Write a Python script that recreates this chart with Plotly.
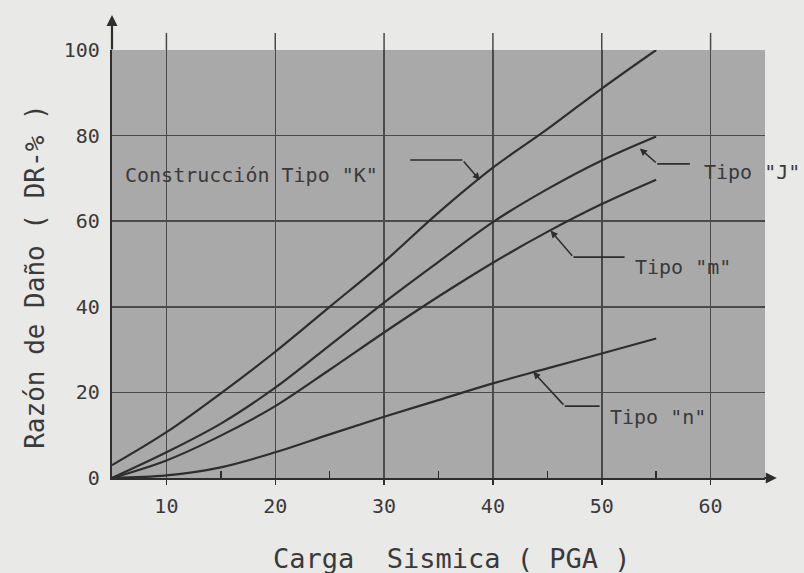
import plotly.graph_objects as go

# ---- data ----
pga = [5, 10, 15, 20, 25, 30, 35, 40, 45, 50, 55]
tipo_k = [3.0, 10.7, 19.8, 29.5, 40.0, 50.5, 62.0, 72.5, 81.5, 91.0, 100.0]
tipo_j = [0.0, 6.0, 12.7, 21.1, 31.0, 41.0, 50.5, 59.8, 67.5, 74.2, 79.8]
tipo_m = [0.0, 4.1, 9.9, 16.8, 25.3, 34.0, 42.4, 50.3, 57.5, 64.0, 69.7]
tipo_n = [0.0, 0.6, 2.5, 6.0, 10.2, 14.3, 18.2, 22.1, 25.6, 29.1, 32.6]

x_ticks = [10, 20, 30, 40, 50, 60]
x_tick_labels = ["10", "20", "30", "40", "50", "60"]
y_ticks = [0, 20, 40, 60, 80, 100]
y_tick_labels = ["0", "20", "40", "60", "80", "100"]
x_minor = [15, 25, 35, 45, 55]

series = [("Construcción Tipo \"K\"", tipo_k),
          ("Tipo \"J\"", tipo_j),
          ("Tipo \"m\"", tipo_m),
          ("Tipo \"n\"", tipo_n)]

# ---- styling ----
INK = "#2e2e2e"
TXT = "#3a3a3a"
GRID = "#4a4a4a"
PLOT_BG = "#a9a9a9"
PAPER_BG = "#e9e9e7"
FONT = "DejaVu Sans Mono"

fig = go.Figure()
for name, ys in series:
    fig.add_trace(go.Scatter(x=pga, y=ys, mode="lines", name=name,
                             line=dict(color=INK, width=2.2, shape="spline", smoothing=1.0),
                             showlegend=False, hoverinfo="skip"))

# label placement: (text, text_x, text_y, curve_x, curve_y, elbow_x, elbow_y, end_x)
labels = [
    ("Construcción Tipo \"K\"", 6.0, 70.8, 38.8, 69.6, 37.2, 74.3, 32.4),
    ("Tipo \"J\"", 59.2, 71.6, 53.5, 77.0, 55.1, 73.4, 58.1),
    ("Tipo \"m\"", 52.9, 49.3, 45.3, 57.8, 47.4, 51.6, 52.1),
    ("Tipo \"n\"", 50.6, 14.3, 43.7, 24.8, 46.6, 16.8, 49.8),
]

annotations = []
shapes = []
for text, tx, ty, cx, cy, ex, ey, hx in labels:
    annotations.append(dict(x=tx, y=ty, xref="x", yref="y", text=text, showarrow=False,
                            xanchor="left", yanchor="middle",
                            font=dict(family=FONT, size=20, color=TXT)))
    # diagonal leader with small arrow at the curve
    annotations.append(dict(x=cx, y=cy, xref="x", yref="y", ax=ex, ay=ey,
                            axref="x", ayref="y", text="", showarrow=True,
                            arrowhead=2, arrowsize=0.9, arrowwidth=1.6, arrowcolor=INK))
    shapes.append(dict(type="line", xref="x", yref="y", x0=ex, y0=ey, x1=hx, y1=ey,
                       line=dict(color=INK, width=1.6)))

# vertical gridlines extend a little above the plot
for xv in x_ticks:
    shapes.append(dict(type="line", xref="x", yref="paper", x0=xv, x1=xv, y0=1.0, y1=1.04,
                       line=dict(color=GRID, width=1.5), layer="below"))

# axis arrows
annotations.append(dict(x=5, y=1.082, xref="x", yref="paper", ax=0, ay=36, text="",
                        showarrow=True, arrowhead=2, arrowsize=1.0, arrowwidth=2.2,
                        arrowcolor=INK))
annotations.append(dict(x=1.018, y=0, xref="paper", yref="y", ax=-14, ay=0, text="",
                        showarrow=True, arrowhead=2, arrowsize=1.0, arrowwidth=2.2,
                        arrowcolor=INK))

# axis titles
annotations.append(dict(x=0.52, y=-0.187, xref="paper", yref="paper",
                        text="Carga  Sismica ( PGA )", showarrow=False,
                        xanchor="center", yanchor="middle",
                        font=dict(family=FONT, size=27, color=TXT)))
annotations.append(dict(x=-0.118, y=0.47, xref="paper", yref="paper",
                        text="Razón de Daño ( DR-% )", showarrow=False, textangle=-90,
                        xanchor="center", yanchor="middle",
                        font=dict(family=FONT, size=26, color=TXT)))

fig.update_layout(
    width=804, height=573,
    margin=dict(l=112, r=39, t=50, b=95),
    paper_bgcolor=PAPER_BG, plot_bgcolor=PLOT_BG,
    annotations=annotations, shapes=shapes,
    showlegend=False,
)
fig.update_xaxes(range=[5, 65], tickmode="array", tickvals=x_ticks, ticktext=x_tick_labels,
                 showgrid=True, gridcolor=GRID, gridwidth=1.5,
                 showline=True, linecolor=INK, linewidth=2.2,
                 ticks="outside", ticklen=5, tickcolor=INK, tickwidth=1.5,
                 ticklabelstandoff=4,
                 tickfont=dict(family=FONT, size=20, color=TXT),
                 minor=dict(tickmode="array", tickvals=x_minor, ticks="inside",
                            ticklen=7, tickcolor=INK, tickwidth=1.5, showgrid=False),
                 zeroline=False, fixedrange=True)
fig.update_yaxes(range=[0, 100], tickmode="array", tickvals=y_ticks, ticktext=y_tick_labels,
                 showgrid=True, gridcolor=GRID, gridwidth=1.5,
                 showline=True, linecolor=INK, linewidth=2.2,
                 ticks="", ticklabelstandoff=6,
                 tickfont=dict(family=FONT, size=20, color=TXT),
                 zeroline=False, fixedrange=True)

fig.write_html(
    "out.html",
    config={"displayModeBar": False, "staticPlot": True},
    post_script=("document.body.style.margin='0';document.body.style.padding='0';"
                 "document.body.style.background='#e9e9e7';"
                 "document.documentElement.style.overflow='hidden';"),
)
